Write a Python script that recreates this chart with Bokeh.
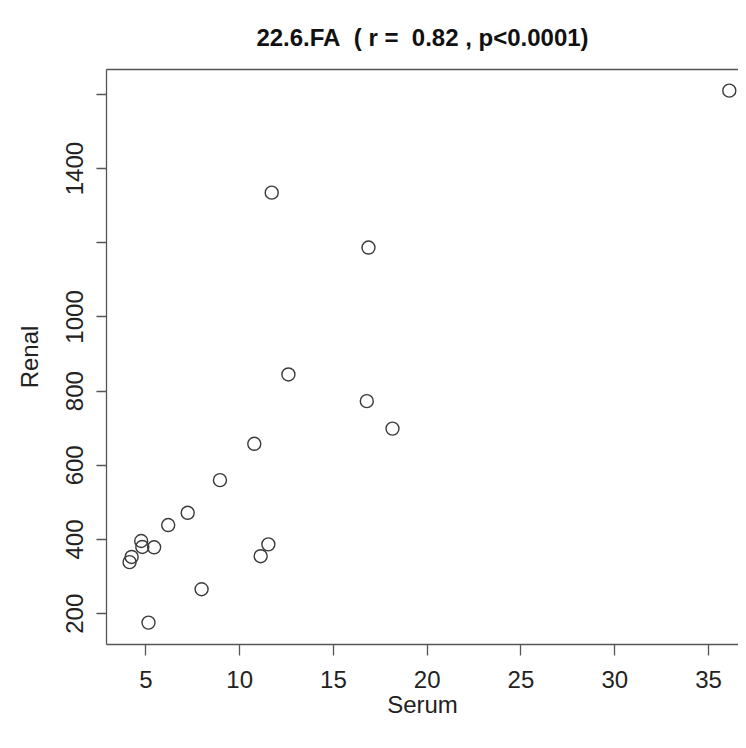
from bokeh.plotting import figure
from bokeh.models import Range1d, LinearAxis, FixedTicker, Title
from bokeh.embed import file_html
from bokeh.resources import INLINE

# data
serum = [36.11, 11.71, 16.87, 12.60, 16.78, 18.15, 10.78, 8.95, 7.23, 6.19,
         4.75, 4.81, 5.44, 4.24, 4.13, 11.53, 11.12, 7.97, 5.14]
renal = [1610, 1335, 1187, 845, 773, 699, 658, 560, 472, 439,
         396, 380, 379, 353, 339, 387, 355, 266, 176]

x_ticks = [5, 10, 15, 20, 25, 30, 35]
y_ticks = [200, 400, 600, 800, 1000, 1200, 1400, 1600]
y_hidden_labels = [1200, 1600]

title_text = "22.6.FA\u00a0\u00a0( r =\u00a0\u00a00.82 , p<0.0001)"
x_label = "Serum"
y_label = "Renal"

FONT = "Liberation Sans"
AXIS_COL = "#555555"
TEXT_COL = "#222222"

p = figure(width=738, height=740, output_backend="svg", toolbar_location=None,
           x_range=Range1d(2.9, 36.6), y_range=Range1d(117, 1667),
           min_border_left=106, min_border_top=69, min_border_bottom=96,
           min_border_right=0)
p.title = None
p.outline_line_color = None
p.xgrid.visible = False
p.ygrid.visible = False
p.background_fill_color = "white"
p.border_fill_color = "white"

p.scatter(serum, renal, size=13, marker="circle", fill_color=None,
          line_color="#3a3a3a", line_width=1.4)

for ax in (p.xaxis[0], p.yaxis[0]):
    ax.axis_line_color = AXIS_COL
    ax.axis_line_width = 1.3
    ax.major_tick_line_color = AXIS_COL
    ax.major_tick_line_width = 1.3
    ax.major_tick_in = 0
    ax.minor_tick_line_color = None
    ax.major_label_text_font = FONT
    ax.major_label_text_font_size = "24px"
    ax.major_label_text_color = TEXT_COL
    ax.axis_label_text_font = FONT
    ax.axis_label_text_font_size = "24px"
    ax.axis_label_text_font_style = "normal"
    ax.axis_label_text_color = TEXT_COL

xa = p.xaxis[0]
xa.ticker = FixedTicker(ticks=x_ticks)
xa.major_tick_out = 11
xa.major_label_standoff = 15
xa.axis_label = x_label
xa.axis_label_standoff = 0

ya = p.yaxis[0]
ya.ticker = FixedTicker(ticks=y_ticks)
ya.major_tick_out = 10
ya.major_label_orientation = "vertical"
ya.major_label_standoff = 13
ya.major_label_overrides = {v: "" for v in y_hidden_labels}
ya.axis_label = y_label
ya.axis_label_standoff = 21

# top border of the box
top = LinearAxis(ticker=FixedTicker(ticks=[]), axis_line_color=AXIS_COL,
                 axis_line_width=1.3, major_tick_out=0, major_tick_in=0,
                 major_tick_line_color=None, minor_tick_line_color=None,
                 minor_tick_out=0, minor_tick_in=0, major_label_text_font_size="0px")
p.add_layout(top, "above")

t = Title(text=title_text, align="center", text_font=FONT, text_font_size="24px",
          text_font_style="bold", text_color="#111111", standoff=38)
p.add_layout(t, "above")

open("out.html", "w").write(file_html(p, INLINE))
